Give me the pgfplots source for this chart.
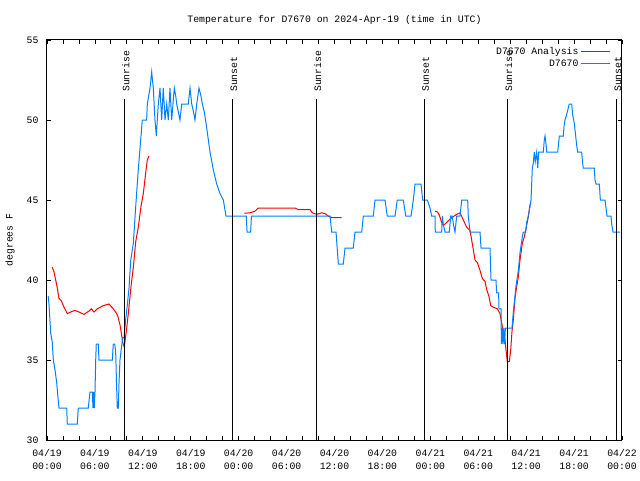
\documentclass[border=0pt]{standalone}
\usepackage{fontspec}
\setmainfont{Liberation Mono}
\usepackage{pgfplots}
\pgfplotsset{compat=1.18}
\definecolor{obsblue}{RGB}{0,128,255}
\begin{document}
\begin{tikzpicture}[x=1pt,y=1pt,font=\fontsize{9.8}{13}\selectfont]
\useasboundingbox (0,0) rectangle (640,480);
\begin{axis}[
  at={(47pt,40pt)}, anchor=south west,
  scale only axis, width=575pt, height=400pt,
  xmin=0, xmax=72, ymin=30, ymax=55,
  xtick={0,6,...,72},
  minor xtick={2,4,...,70},
  xticklabels={{04/19\\00:00},{04/19\\06:00},{04/19\\12:00},{04/19\\18:00},{04/20\\00:00},{04/20\\06:00},{04/20\\12:00},{04/20\\18:00},{04/21\\00:00},{04/21\\06:00},{04/21\\12:00},{04/21\\18:00},{04/22\\00:00}},
  ytick={30,35,...,55},
  /pgf/number format/assume math mode=true,
  tick align=inside,
  major tick length=4pt, minor tick length=4pt,
  tick style={black, line width=0.8pt},
  axis line style={line width=1pt},
  xticklabel style={align=center, yshift=-6pt, font=\fontsize{9.8}{13}\selectfont},
  yticklabel style={xshift=-5pt, font=\fontsize{9.8}{13}\selectfont},
  title={Temperature for D7670 on 2024-Apr-19 (time in UTC)},
  every axis title/.style={at={(axis description cs:0.5,1)}, anchor=center, yshift=20pt},
  ylabel={degrees F},
  every axis y label/.style={at={(axis description cs:0,0.5)}, rotate=90, anchor=center, yshift=37pt},
  unbounded coords=jump,
  legend plot pos=right,
  legend cell align=right,
  legend style={at={(axis description cs:1,1)}, anchor=north east, xshift=-8pt, yshift=-3pt,
    draw=none, fill=none, row sep=0pt, font=\fontsize{9.8}{13}\selectfont},
  legend image code/.code={\draw[#1,line width=1.3pt] (0pt,0pt) -- (29pt,0pt);},
]
\addlegendimage{red}
\addlegendentry{D7670 Analysis}
\addlegendimage{obsblue}
\addlegendentry{D7670}
\addplot[red, line width=1pt, forget plot] coordinates {
(0.66,40.8)(0.88,40.5)(1.09,40.0)(1.29,39.5)(1.50,38.85)(1.79,38.7)(2.13,38.3)(2.54,37.9)(2.97,38.0)(3.47,38.1)(4.01,38.0)(4.63,37.85)(5.26,38.06)(5.55,38.2)(5.89,38.0)(6.30,38.2)(7.05,38.4)(7.76,38.5)(8.30,38.2)(8.73,37.9)(8.89,37.7)(9.14,37.2)(9.33,36.6)(9.48,36.1)(9.68,35.8)(9.98,37.0)(10.18,37.9)(10.52,39.6)(10.81,40.8)(11.11,42.4)(11.43,43.3)(11.77,44.6)(12.06,45.4)(12.36,46.7)(12.56,47.5)(12.77,47.75)
(12.9,nan)
(24.71,44.17)(25.42,44.2)(26.05,44.3)(26.46,44.5)(31.05,44.5)(31.47,44.4)(32.93,44.4)(33.22,44.2)(33.77,44.1)(34.40,44.2)(34.81,44.15)(35.22,44.0)(35.65,43.9)(36.90,43.9)
(40,nan)
(48.58,44.3)(48.9,44.25)(49.12,44.06)(49.42,43.6)(49.62,43.4)(50.05,43.6)(50.68,43.9)(51.30,44.1)(51.72,44.2)(52.13,43.75)(52.55,43.3)(52.97,43.1)(53.18,42.5)(53.38,41.9)(53.59,41.25)(53.88,41.1)(54.22,40.6)(54.51,40.1)(54.85,39.9)(55.06,39.4)(55.35,38.96)(55.56,38.4)(55.89,38.3)(56.39,38.2)(56.73,37.9)(57.06,36.98)(57.35,36.25)(57.48,35.6)(57.64,34.9)(57.89,34.9)(58.06,35.6)(58.23,36.8)(58.39,37.5)(58.60,38.85)(58.82,39.6)(59.02,40.2)(59.23,41.25)(59.52,42.3)(59.77,42.7)(59.98,43.2)(60.27,43.96)(60.48,44.7)(60.61,44.8)
};
\addplot[obsblue, line width=1pt, forget plot] coordinates {
(0.15,39)(0.25,38.5)(0.38,37.4)(0.46,36.7)(0.66,36.1)(0.79,35)(1.0,34.4)(1.21,33.6)(1.38,32.6)(1.50,32)(2.47,32)(2.54,31)(3.79,31)(3.92,32)(5.17,32)(5.38,33)(5.67,33)(5.76,32)(5.85,33)(5.92,32)(6.01,33)(6.10,35)(6.17,36)(6.42,36)(6.51,35)(8.18,35)(8.30,36)(8.48,36)(8.60,35.5)(8.70,33.6)(8.80,32)(8.93,32)(9.02,33.6)(9.14,35)(9.30,35.7)(9.48,36.4)(9.64,36.4)(9.85,37.5)(10.05,38.4)(10.27,39.5)(10.48,41.2)(10.81,42.3)(11.11,44.6)(11.43,46.9)(11.77,49)(11.93,50)(12.48,50)(12.56,51)(12.90,52)(13.11,53)(13.31,52)(13.52,50)(13.69,49)(13.81,50)(13.94,51)(14.15,52)(14.36,50)(14.56,52)(14.78,50)(14.99,51)(15.19,50)(15.40,52)(15.61,50)(15.94,52)(16.12,51.5)(16.24,51)(16.44,50.5)(16.65,50)(16.87,51)(17.69,51)(17.91,52)(18.12,51)(18.35,50.5)(18.53,50)(18.75,51)(19.03,52)(19.28,51.5)(19.45,51)(19.70,50.5)(20.0,49.5)(20.41,48)(20.82,46.9)(21.25,46)(21.66,45.4)(22.08,45)(22.41,44)(24.95,44)(25.05,43)(25.5,43)(25.6,44)(35.44,44)(35.65,43)(36.19,43)(36.48,41)(37.10,41)(37.32,42)(38.35,42)(38.57,43)(39.41,43)(39.61,44)(40.86,44)(41.07,45)(42.32,45)(42.61,44)(43.58,44)(43.86,45)(44.62,45)(44.92,44)(45.58,44)(45.87,45)(46.08,46)(46.83,46)(47.04,45)(47.62,45)(47.96,44.5)(48.17,44)(48.59,44)(48.62,43)(49.42,43)(49.5,44)(49.62,43.5)(49.84,43)(50.38,43)(50.55,44)(50.75,44)(50.88,43.5)(51.09,43)(51.30,44)(51.72,44)(51.93,45)(52.68,45)(52.75,44)(52.97,43)(54.22,43)(54.35,42)(55.47,42)(55.6,40)(56.22,40)(56.3,39.2)(56.55,39.2)(56.6,38.2)(56.85,38.2)(56.9,36)(57.0,37)(57.1,36)(57.2,37)(57.3,36)(57.4,37)(58.23,37)(58.39,38)(58.60,39)(58.72,39.6)(59.02,40.6)(59.23,41.7)(59.52,42.7)(59.64,43)(59.94,43)(60.07,43.6)(60.27,44)(60.48,44.6)(60.61,45)(60.77,47)(60.89,47.3)(61.02,48)(61.14,47.4)(61.32,48)(61.45,47)(61.57,48)(62.15,48)(62.27,48.75)(62.36,49)(62.49,48.5)(62.57,48)(63.95,48)(64.05,48.5)(64.15,49)(64.65,49)(64.74,49.6)(64.86,50)(65.05,50.3)(65.20,50.6)(65.40,51)(65.70,51)(65.83,50.3)(66.03,49.8)(66.20,49)(66.33,48.4)(66.45,48)(66.95,48)(67.05,47.4)(67.15,47)(68.53,47)(68.62,46.25)(68.75,46)(69.16,46)(69.29,45)(69.87,45)(70.0,44.5)(70.12,44)(70.62,44)(70.71,43.5)(70.87,43)(71.75,43)
};
\draw[black, line width=1pt] (axis cs:9.68,30) -- (axis cs:9.68,51.3);
\draw[black, line width=1pt] (axis cs:33.7,30) -- (axis cs:33.7,51.3);
\draw[black, line width=1pt] (axis cs:57.62,30) -- (axis cs:57.62,51.3);
\draw[black, line width=1pt] (axis cs:23.2,30) -- (axis cs:23.2,51.3);
\draw[black, line width=1pt] (axis cs:47.22,30) -- (axis cs:47.22,51.3);
\draw[black, line width=1pt] (axis cs:71.3,30) -- (axis cs:71.3,51.3);
\node[rotate=90, anchor=west, inner sep=0pt] at ([xshift=1.5pt]axis cs:9.68,51.75) {Sunrise};
\node[rotate=90, anchor=west, inner sep=0pt] at ([xshift=1.5pt]axis cs:33.7,51.75) {Sunrise};
\node[rotate=90, anchor=west, inner sep=0pt] at ([xshift=1.5pt]axis cs:57.62,51.75) {Sunrise};
\node[rotate=90, anchor=west, inner sep=0pt] at ([xshift=1.5pt]axis cs:23.2,51.75) {Sunset};
\node[rotate=90, anchor=west, inner sep=0pt] at ([xshift=1.5pt]axis cs:47.22,51.75) {Sunset};
\node[rotate=90, anchor=west, inner sep=0pt] at ([xshift=1.5pt]axis cs:71.3,51.75) {Sunset};
\end{axis}
\end{tikzpicture}
\end{document}
